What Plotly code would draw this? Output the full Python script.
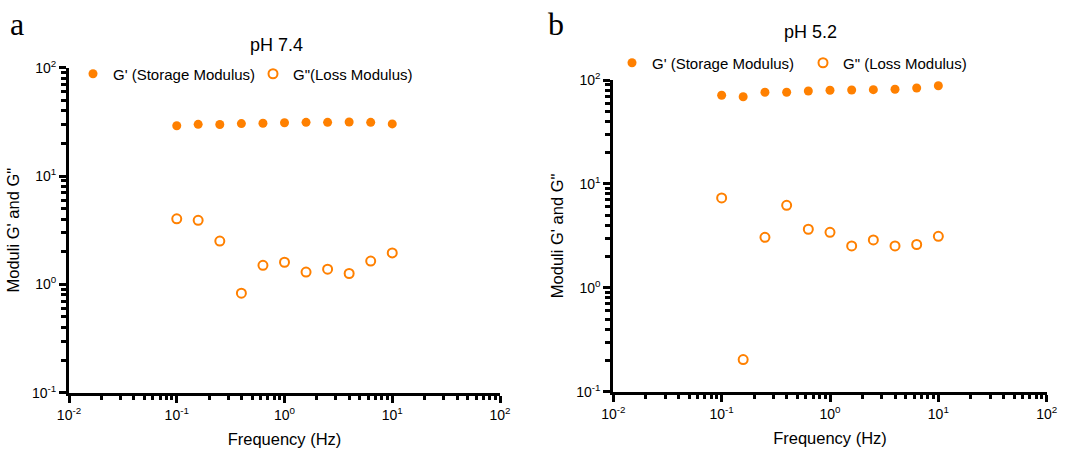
import plotly.graph_objects as go

freq = [0.1, 0.158, 0.251, 0.398, 0.631, 1.0, 1.585, 2.512, 3.981, 6.31, 10.0]

g_storage_74 = [29.1, 30.0, 29.9, 30.5, 30.7, 31.0, 31.3, 31.3, 31.5, 31.3, 30.3]
g_loss_74 = [4.03, 3.90, 2.51, 0.83, 1.50, 1.60, 1.30, 1.38, 1.26, 1.64, 1.95]

g_storage_52 = [71.3, 69.0, 76.2, 76.2, 78.3, 79.6, 80.1, 80.7, 81.4, 83.8, 88.1]
g_loss_52 = [7.33, 0.204, 3.06, 6.22, 3.66, 3.42, 2.53, 2.89, 2.53, 2.61, 3.13]

x_tickvals = [0.01, 0.1, 1, 10, 100]
x_ticktext = ["10<sup>-2</sup>", "10<sup>-1</sup>", "10<sup>0</sup>", "10<sup>1</sup>", "10<sup>2</sup>"]
y_tickvals = [0.1, 1, 10, 100]
y_ticktext = ["10<sup>-1</sup>", "10<sup>0</sup>", "10<sup>1</sup>", "10<sup>2</sup>"]

minor_mult = [2, 3, 4, 5, 6, 7, 8, 9]
x_minor = [m * d for d in [0.01, 0.1, 1, 10] for m in minor_mult]
y_minor = [m * d for d in [0.1, 1, 10] for m in minor_mult]

ORANGE = "#FF8000"
FONT = "Liberation Sans, Arial, sans-serif"

fig = go.Figure()

fig.add_trace(go.Scatter(x=freq, y=g_storage_74, mode="markers", name="G' (Storage Modulus)",
                         marker=dict(symbol="circle", size=9, color=ORANGE),
                         xaxis="x", yaxis="y", legend="legend"))
fig.add_trace(go.Scatter(x=freq, y=g_loss_74, mode="markers", name='G"(Loss Modulus)',
                         marker=dict(symbol="circle-open", size=9, color=ORANGE, line=dict(width=2)),
                         xaxis="x", yaxis="y", legend="legend"))
fig.add_trace(go.Scatter(x=freq, y=g_storage_52, mode="markers", name="G' (Storage Modulus)",
                         marker=dict(symbol="circle", size=9, color=ORANGE),
                         xaxis="x2", yaxis="y2", legend="legend2"))
fig.add_trace(go.Scatter(x=freq, y=g_loss_52, mode="markers", name='G" (Loss Modulus)',
                         marker=dict(symbol="circle-open", size=9, color=ORANGE, line=dict(width=2)),
                         xaxis="x2", yaxis="y2", legend="legend2"))

# invisible carriers so the minor-tick overlay axes get drawn
for xa, ya, yy in [("x3", "y", g_storage_74), ("x", "y3", g_storage_74),
                   ("x4", "y2", g_storage_52), ("x2", "y4", g_storage_52)]:
    fig.add_trace(go.Scatter(x=freq[:1], y=yy[:1], mode="markers", marker=dict(opacity=0),
                             showlegend=False, hoverinfo="skip", xaxis=xa, yaxis=ya))

W, H = 1076, 453

def px_x(p):
    return p / W

def px_y(p):
    return 1 - p / H

line_common = dict(
    type="log", showgrid=False, zeroline=False,
    showline=True, linecolor="black", linewidth=3,
    ticks="outside", tickcolor="black", automargin=False,
)
major = dict(**line_common, ticklen=7, tickwidth=3,
             tickfont=dict(family=FONT, size=14, color="black"))
minor_x = dict(**line_common, ticklen=4, tickwidth=2.5, showticklabels=False)
minor_y = dict(**line_common, ticklen=5, tickwidth=2.5, showticklabels=False)

title_font = dict(family=FONT, size=16.5)

L_X = [px_x(69), px_x(500)]
L_Y = [px_y(392.7), px_y(67.7)]
R_X = [px_x(613.3), px_x(1046.7)]
R_Y = [px_y(391.7), px_y(80)]

fig.update_layout(
    width=W, height=H,
    margin=dict(l=0, r=0, t=0, b=0),
    paper_bgcolor="white", plot_bgcolor="white",
    font=dict(family=FONT, color="black"),
    xaxis=dict(**major, domain=L_X, range=[-2, 2],
               tickvals=x_tickvals, ticktext=x_ticktext, anchor="y",
               title=dict(text="Frequency (Hz)", font=title_font, standoff=12)),
    yaxis=dict(**major, domain=L_Y, range=[-1, 2],
               tickvals=y_tickvals, ticktext=y_ticktext, anchor="x",
               title=dict(text='Moduli G\' and G"', font=title_font, standoff=9)),
    xaxis2=dict(**major, domain=R_X, range=[-2, 2],
                tickvals=x_tickvals, ticktext=x_ticktext, anchor="y2",
                title=dict(text="Frequency (Hz)", font=title_font, standoff=12)),
    yaxis2=dict(**major, domain=R_Y, range=[-1, 2],
                tickvals=y_tickvals, ticktext=y_ticktext, anchor="x2",
                title=dict(text='Moduli G\' and G"', font=title_font, standoff=9)),
    xaxis3=dict(**minor_x, domain=L_X, range=[-2, 2], tickvals=x_minor,
                overlaying="x", anchor="y", side="bottom"),
    yaxis3=dict(**minor_y, domain=L_Y, range=[-1, 2], tickvals=y_minor,
                overlaying="y", anchor="x", side="left"),
    xaxis4=dict(**minor_x, domain=R_X, range=[-2, 2], tickvals=x_minor,
                overlaying="x2", anchor="y2", side="bottom"),
    yaxis4=dict(**minor_y, domain=R_Y, range=[-1, 2], tickvals=y_minor,
                overlaying="y2", anchor="x2", side="left"),
    legend=dict(orientation="h", x=px_x(73), y=px_y(74), xanchor="left", yanchor="middle",
                font=dict(family=FONT, size=15), bgcolor="rgba(0,0,0,0)", itemwidth=30,
                entrywidth=135, entrywidthmode="pixels"),
    legend2=dict(orientation="h", x=px_x(612), y=px_y(63), xanchor="left", yanchor="middle",
                 font=dict(family=FONT, size=15), bgcolor="rgba(0,0,0,0)", itemwidth=30,
                 entrywidth=146, entrywidthmode="pixels"),
    showlegend=True,
)

fig.add_annotation(text="pH 7.4", x=px_x(276.7), y=px_y(45), xref="paper", yref="paper",
                   showarrow=False, font=dict(family=FONT, size=18), xanchor="center", yanchor="middle")
fig.add_annotation(text="pH 5.2", x=px_x(810), y=px_y(32), xref="paper", yref="paper",
                   showarrow=False, font=dict(family=FONT, size=18), xanchor="center", yanchor="middle")
fig.add_annotation(text="a", x=px_x(17), y=px_y(24), xref="paper", yref="paper",
                   showarrow=False, font=dict(family="Liberation Serif, Times New Roman, serif", size=32),
                   xanchor="center", yanchor="middle")
fig.add_annotation(text="b", x=px_x(556), y=px_y(24), xref="paper", yref="paper",
                   showarrow=False, font=dict(family="Liberation Serif, Times New Roman, serif", size=32),
                   xanchor="center", yanchor="middle")

fig.write_html("out.html")
